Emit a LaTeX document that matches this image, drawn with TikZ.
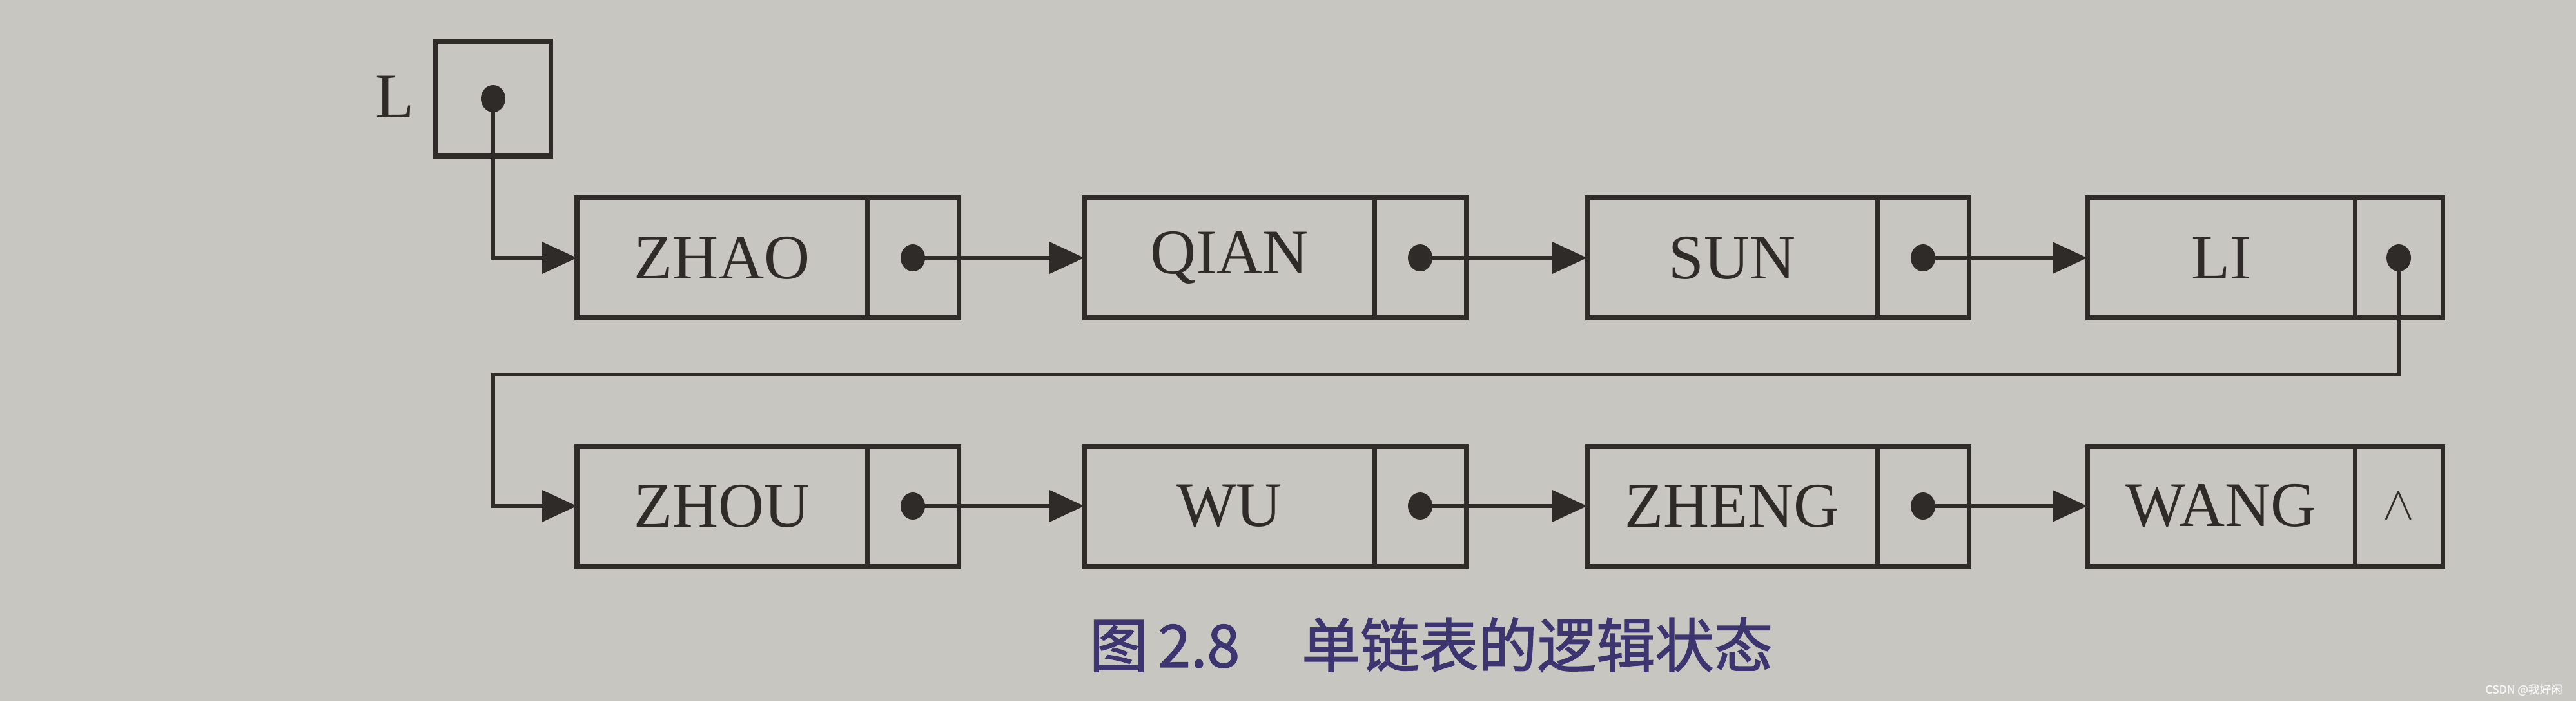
\documentclass[tikz,border=0pt]{standalone}
\usepackage{fontspec}
\setmainfont{Liberation Serif}
\newfontfamily\cjk[FakeBold=1.6]{Noto Sans CJK SC}
\usetikzlibrary{arrows.meta,positioning,shapes.geometric}
\definecolor{paper}{HTML}{C8C6C0}
\definecolor{ink}{HTML}{2E2B29}
\definecolor{capcol}{HTML}{3D3570}
\tikzset{
  datapart/.style={draw=ink, line width=2pt, minimum height=1.86cm, inner sep=0pt, outer sep=0pt,
    font=\fontsize{28}{32}\selectfont, text=ink},
  ptrpart/.style={draw=ink, line width=2pt, minimum height=1.86cm, inner sep=0pt, outer sep=0pt, anchor=west},
  pdot/.style={ellipse, fill=ink, minimum width=0.38cm, minimum height=0.42cm, inner sep=0pt, outer sep=0pt},
  link/.style={draw=ink, line width=1.8pt, -{Triangle[length=0.54cm,width=0.48cm]}},
  lbl/.style={font=\fontsize{28}{32}\selectfont, text=ink, inner sep=0pt}
}
\begin{document}
\begin{tikzpicture}
\fill[paper] (0,0) rectangle (39.96,-10.88);
\useasboundingbox (0,0) rectangle (39.96,-10.88);

% head pointer L
\node[lbl] (Llab) at (6.13,-1.50) {L};
\node[draw=ink, line width=2pt, minimum width=1.79cm, minimum height=1.78cm, inner sep=0pt, outer sep=0pt] (L) at (7.65,-1.53) {};
\node[pdot] (Ld) at (L.center) {};

% row 1
\node[datapart, minimum width=4.50cm] (zhao) at (11.20,-4.00) {ZHAO};
\node[ptrpart, minimum width=1.42cm] (zhaop) at (zhao.east) {};
\node[pdot] (zhaod) at (zhaop.center) {};

\node[datapart, minimum width=4.50cm] (qian) at (19.07,-4.00) {QIAN};
\node[ptrpart, minimum width=1.42cm] (qianp) at (qian.east) {};
\node[pdot] (qiand) at (qianp.center) {};

\node[datapart, minimum width=4.50cm] (sun) at (26.87,-4.00) {SUN};
\node[ptrpart, minimum width=1.42cm] (sunp) at (sun.east) {};
\node[pdot] (sund) at (sunp.center) {};

\node[datapart, minimum width=4.15cm] (li) at (34.455,-4.00) {LI};
\node[ptrpart, minimum width=1.36cm] (lip) at (li.east) {};
\node[pdot] (lid) at (lip.center) {};

% row 2
\node[datapart, minimum width=4.50cm] (zhou) at (11.20,-7.85) {ZHOU};
\node[ptrpart, minimum width=1.42cm] (zhoup) at (zhou.east) {};
\node[pdot] (zhoud) at (zhoup.center) {};

\node[datapart, minimum width=4.50cm] (wu) at (19.07,-7.85) {WU};
\node[ptrpart, minimum width=1.42cm] (wup) at (wu.east) {};
\node[pdot] (wud) at (wup.center) {};

\node[datapart, minimum width=4.50cm] (zheng) at (26.87,-7.85) {ZHENG};
\node[ptrpart, minimum width=1.42cm] (zhengp) at (zheng.east) {};
\node[pdot] (zhengd) at (zhengp.center) {};

\node[datapart, minimum width=4.15cm] (wang) at (34.455,-7.85) {WANG};
\node[ptrpart, minimum width=1.36cm] (wangp) at (wang.east) {};
\node[text=ink, inner sep=0pt, font=\fontsize{22}{26}\selectfont] (nil) at (wangp.center) {$\wedge$};

% connectors
\draw[link] (Ld.center) |- (zhao.west);
\draw[link] (zhaod.center) -- (qian.west);
\draw[link] (qiand.center) -- (sun.west);
\draw[link] (sund.center) -- (li.west);
\coordinate (wrapR) at ([yshift=-1.81cm]lid.center);
\coordinate (wrapL) at (Ld.center |- wrapR);
\draw[link] (lid.center) -- (wrapR) -- (wrapL) |- (zhou.west);
\draw[link] (zhoud.center) -- (wu.west);
\draw[link] (wud.center) -- (zheng.west);
\draw[link] (zhengd.center) -- (wang.west);

% caption
\node[font=\cjk\fontsize{26}{30}\selectfont, text=capcol, inner sep=0pt] (cap) at (22.2,-10.0) {图\,2.8\hspace{1.05em}单链表的逻辑状态};

% watermark
\node[font=\cjk\fontsize{5}{6}\selectfont, text=white!85!paper, inner sep=0pt] (wm) at (39.15,-10.70) {CSDN @我好闲};
\end{tikzpicture}
\end{document}
